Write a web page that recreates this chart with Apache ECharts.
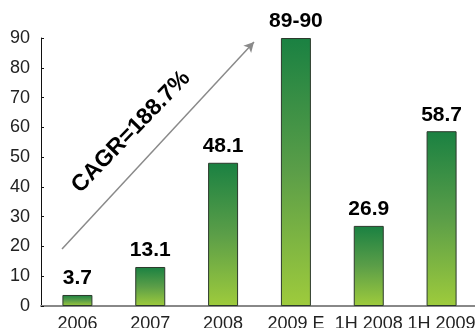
<!DOCTYPE html>
<html>
<head>
<meta charset="utf-8">
<script src="https://cdn.jsdelivr.net/npm/echarts@6/dist/echarts.min.js"></script>
<style>
  html, body { margin: 0; padding: 0; background: #fff; }
  #chart { width: 475px; height: 328px; }
</style>
</head>
<body>
<div id="chart"></div>
<script>
// data
const categories = ['2006', '2007', '2008', '2009 E', '1H 2008', '1H 2009']
const values = [3.7, 13.1, 48.1, 90, 26.9, 58.7]
const valueLabels = ['3.7', '13.1', '48.1', '89-90', '26.9', '58.7']
const cagrText = 'CAGR=188.7%'

const font = 'Arial, "Liberation Sans", sans-serif'

const chart = echarts.init(document.getElementById('chart'))

chart.setOption({
  animation: false,
  textStyle: { fontFamily: font },
  grid: {
    left: 41,
    right: -3,
    top: 38,
    bottom: 22,
    containLabel: false,
    outerBoundsMode: 'none',
  },
  xAxis: {
    type: 'category',
    data: categories,
    axisLine: { lineStyle: { color: '#888', width: 2 } },
    axisTick: { inside: true, length: 4, lineStyle: { color: '#555' } },
    axisLabel: { color: '#222', fontSize: 18, margin: 9, interval: 0, fontFamily: font },
  },
  yAxis: {
    type: 'value',
    min: 0,
    max: 90,
    interval: 10,
    splitLine: { show: false },
    axisLine: { show: true, lineStyle: { color: '#111', width: 1 } },
    axisTick: { show: true, inside: true, length: 3, lineStyle: { color: '#111' } },
    axisLabel: { color: '#222', fontSize: 18, margin: 11, fontFamily: font },
  },
  series: [
    {
      type: 'bar',
      data: values,
      barWidth: 30,
      itemStyle: {
        borderColor: '#2c3a2c',
        borderWidth: 1,
        color: new echarts.graphic.LinearGradient(0, 0, 0, 1, [
          { offset: 0, color: '#1a8142' },
          { offset: 0.5, color: '#5b9e48' },
          { offset: 1, color: '#9ecb3c' },
        ]),
      },
      label: {
        show: true,
        position: 'top',
        distance: 6,
        color: '#000',
        fontSize: 21,
        fontWeight: 'bold',
        fontFamily: font,
        formatter: (p) => valueLabels[p.dataIndex],
      },
      markLine: {
        silent: true,
        symbol: ['none', 'arrow'],
        symbolSize: [8, 10],
        label: { show: false },
        lineStyle: { color: '#8a8a8a', width: 1.5, type: 'solid' },
        data: [[{ x: 62, y: 249 }, { x: 254, y: 42 }]],
      },
    },
  ],
  graphic: [
    {
      type: 'text',
      x: 131,
      y: 132,
      rotation: (46 * Math.PI) / 180,
      style: {
        text: cagrText,
        fill: '#000',
        font: 'bold 23px ' + font,
        textAlign: 'center',
        textVerticalAlign: 'middle',
      },
    },
  ],
})
</script>
</body>
</html>
